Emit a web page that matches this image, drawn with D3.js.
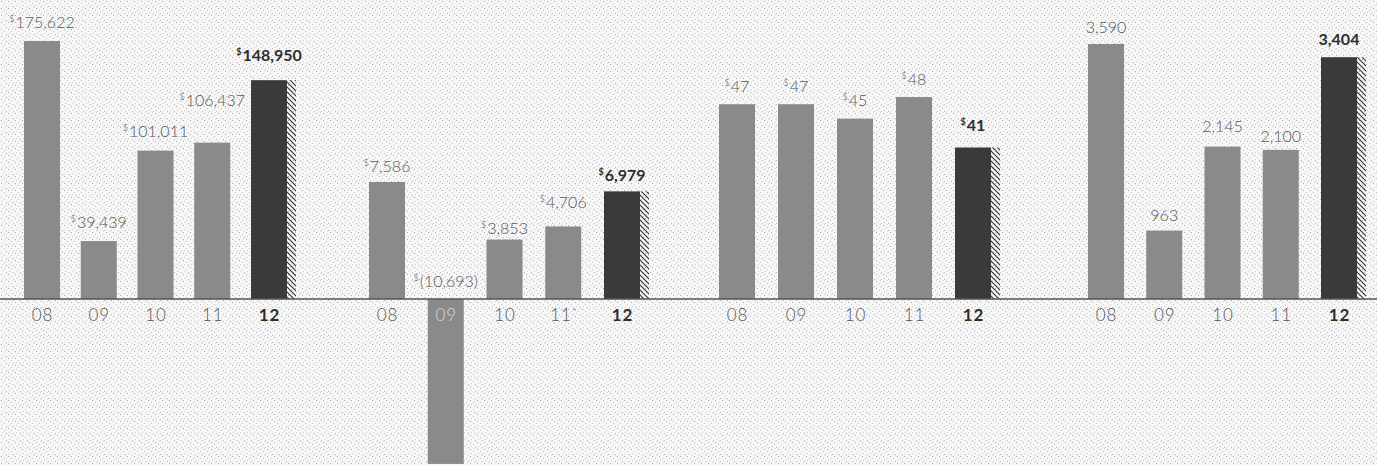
<!DOCTYPE html>
<html>
<head>
<meta charset="utf-8">
<script src="https://cdn.jsdelivr.net/npm/d3@7"></script>
<style>
  html, body { margin: 0; padding: 0; background: #f5f5f5; }
  svg { display: block; }
</style>
</head>
<body>
<script>
// data
var years = ["08", "09", "10", "11", "12"];
var tickNames = [
    ["08", "09", "10", "11", "12"],
    ["08", "09", "10", "11*", "12"],
    ["08", "09", "10", "11", "12"],
    ["08", "09", "10", "11", "12"]
];
var revenue = [175622, 39439, 101011, 106437, 148950];
var income = [7586, -10693, 3853, 4706, 6979];
var perShare = [47, 47, 45, 48, 41];
var units = [3590, 963, 2145, 2100, 3404];
var dollarSign = [true, true, true, false];

window.onload = () => {

    var width = 1377;
    var height = 465;
    var base = 299;

    var svg = d3.select("body").append("svg")
        .attr("width", width)
        .attr("height", height)
        .style("font-family", "Lato, 'Open Sans', sans-serif");

    var defs = svg.append("defs");

    // dotted paper texture
    var dots = defs.append("pattern")
        .attr("id", "dots")
        .attr("patternUnits", "userSpaceOnUse")
        .attr("width", 7).attr("height", 7);
    dots.append("rect").attr("width", 7).attr("height", 7).attr("fill", "#f7f7f7");
    [[1, 1, "#a8a8a8"], [4, 3, "#c0c0c0"], [2, 5, "#d0d0d0"], [6, 6, "#b8b8b8"], [5, 0, "#dadada"]].forEach(function (d) {
        dots.append("rect").attr("x", d[0]).attr("y", d[1]).attr("width", 1).attr("height", 1).attr("fill", d[2]);
    });

    var hatch = defs.append("pattern")
        .attr("id", "hatch")
        .attr("patternUnits", "userSpaceOnUse")
        .attr("width", 5).attr("height", 5);
    hatch.append("path")
        .attr("d", "M0,0L5,5M-1,4L1,6M4,-1L6,1")
        .attr("stroke", "#333")
        .attr("stroke-width", 1.1);

    svg.append("rect")
        .attr("width", width).attr("height", height)
        .attr("fill", "url(#dots)");

    var panels = [
        { values: revenue, first: 42, last: 269, domain: [0, 175622], top: 41 },
        { values: income, first: 387, last: 622, domain: [0, 7586], top: 182 },
        { values: perShare, first: 737, last: 973, domain: [20, 48], top: 97 },
        { values: units, first: 1106, last: 1339, domain: [0, 3590], top: 44 }
    ];

    // how far each value label sits above its bar top
    var labelLift = [
        [13, 13, 14, 37, 19],
        [10, 12, 6, 18, 10],
        [12, 12, 13, 12, 17],
        [11, 10, 15, 8, 12]
    ];

    var barW = 36;

    panels.forEach(function (p, pi) {
        var x = d3.scalePoint().domain(years).range([p.first, p.last]);
        var y = d3.scaleLinear().domain(p.domain).range([base, p.top]);
        var y0 = y(p.domain[0]);
        var g = svg.append("g");

        var data = p.values.map(function (v, i) { return { year: years[i], value: v, i: i }; });

        g.selectAll("rect.bar").data(data).enter().append("rect")
            .attr("class", "bar")
            .attr("x", d => x(d.year) - barW / 2)
            .attr("width", barW)
            .attr("y", d => Math.min(y(d.value), y0))
            .attr("height", d => Math.abs(y(d.value) - y0))
            .attr("fill", d => d.i == 4 ? "#3a3a3a" : "#8a8a8a");

        // shadow hatch on latest year
        var last = data[4];
        g.append("rect")
            .attr("x", x(last.year) + barW / 2)
            .attr("width", 9)
            .attr("y", y(last.value))
            .attr("height", y0 - y(last.value))
            .attr("fill", "url(#hatch)");

        // value labels
        var fmt = d3.format(",");
        var labels = g.selectAll("text.val").data(data).enter().append("text")
            .attr("class", "val")
            .attr("x", d => x(d.year))
            .attr("y", d => Math.min(y(d.value), y0) - labelLift[pi][d.i])
            .attr("text-anchor", "middle")
            .attr("fill", d => d.i == 4 ? "#2e2e2e" : "#575757")
            .style("font-size", "16px")
            .style("font-weight", d => d.i == 4 ? 700 : 300);
        if (dollarSign[pi]) {
            labels.append("tspan")
                .attr("dy", -6)
                .style("font-size", "9px")
                .text("$");
        }
        labels.append("tspan")
            .attr("dy", dollarSign[pi] ? 6 : 0)
            .attr("dx", dollarSign[pi] ? 1 : 0)
            .text(d => d.value < 0 ? "(" + fmt(-d.value) + ")" : fmt(d.value));

        // axis ticks
        var axis = d3.axisBottom(x)
            .tickSize(0)
            .tickPadding(10)
            .tickFormat((d, i) => tickNames[pi][i].replace("*", ""));
        var ag = g.append("g")
            .attr("transform", "translate(0," + base + ")")
            .call(axis);
        ag.select(".domain").remove();
        ag.selectAll(".tick text")
            .attr("fill", (d, i) => p.values[i] < 0 ? "#d8d8d8" : (i == 4 ? "#2e2e2e" : "#575757"))
            .style("font-family", "Lato, 'Open Sans', sans-serif")
            .style("font-size", "17px")
            .style("font-weight", (d, i) => i == 4 ? 700 : 300)
            .style("letter-spacing", "1px")
            .each(function (d, i) {
                if (tickNames[pi][i].indexOf("*") >= 0) {
                    d3.select(this).append("tspan")
                        .attr("dy", -6)
                        .style("font-size", "10px")
                        .text("*");
                }
            });
    });

    // baseline across the whole width
    svg.append("line")
        .attr("x1", 0).attr("x2", width)
        .attr("y1", base).attr("y2", base)
        .attr("stroke", "#555")
        .attr("stroke-width", 1.5);
}
</script>
</body>
</html>
